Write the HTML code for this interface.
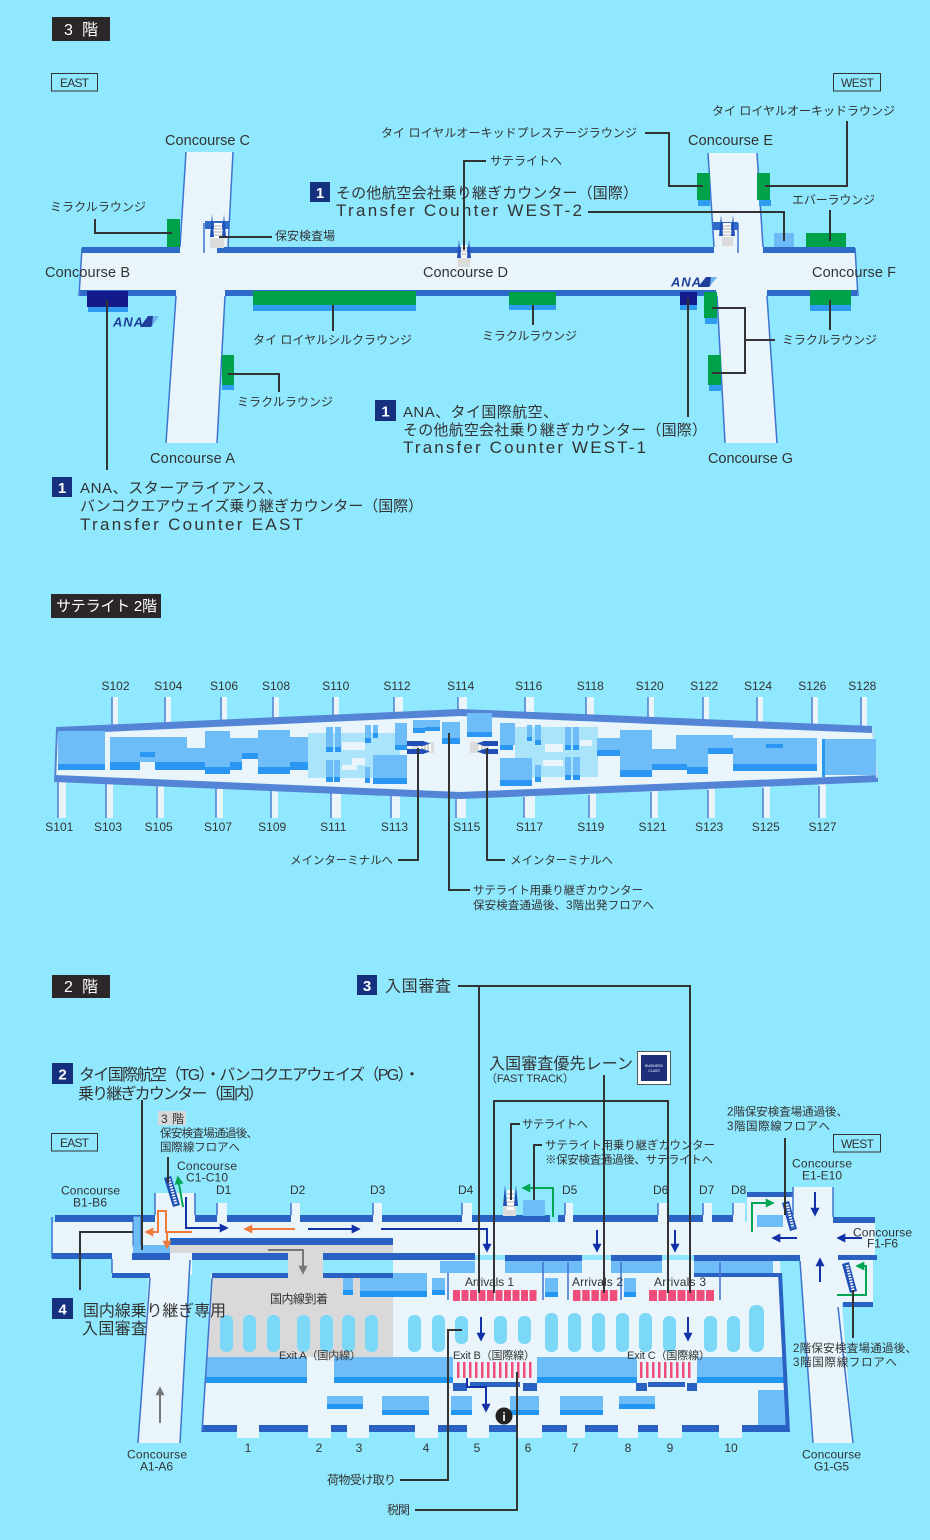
<!DOCTYPE html>
<html><head><meta charset="utf-8"><title>Airport map</title>
<style>
html,body{margin:0;padding:0;background:#8FE8FE;width:930px;height:1540px;overflow:hidden}
svg{display:block}
text{font-family:"Liberation Sans","Noto Sans CJK JP",sans-serif}
</style></head><body>
<svg xmlns="http://www.w3.org/2000/svg" width="930" height="1540" viewBox="0 0 930 1540">
<defs>
<marker id="mN" viewBox="0 0 10 10" refX="7" refY="5" markerWidth="4.5" markerHeight="4.5" orient="auto"><path d="M0,0L10,5L0,10z" fill="#1230A8"/></marker>
<marker id="mO" viewBox="0 0 10 10" refX="7" refY="5" markerWidth="4.5" markerHeight="4.5" orient="auto"><path d="M0,0L10,5L0,10z" fill="#F07A3A"/></marker>
<marker id="mG" viewBox="0 0 10 10" refX="7" refY="5" markerWidth="4.5" markerHeight="4.5" orient="auto"><path d="M0,0L10,5L0,10z" fill="#00A651"/></marker>
<marker id="mK" viewBox="0 0 10 10" refX="7" refY="5" markerWidth="4.5" markerHeight="4.5" orient="auto"><path d="M0,0L10,5L0,10z" fill="#777"/></marker>
</defs>
<rect width="930" height="1540" fill="#8FE8FE"/>

<!-- ================= 3F ================= -->
<rect x="52" y="17" width="58" height="24" fill="#2B2627"/>
<text x="64" y="35" font-size="16" fill="#fff" textLength="34">3 階</text>
<rect x="51.5" y="73.5" width="46" height="17.5" fill="none" stroke="#333" stroke-width="1"/>
<text x="60" y="87" font-size="12" fill="#333" textLength="29">EAST</text>
<rect x="833.5" y="73.5" width="47" height="17.5" fill="none" stroke="#333" stroke-width="1"/>
<text x="841" y="87" font-size="12" fill="#333" textLength="33">WEST</text>

<g fill="#E9F5FB">
<polygon points="186,152 233,152 217,443 166,443"/>
<polygon points="708,153 757,153 777,443 725,443"/>
<polygon points="81,253 855,253 857,291 79,291"/>
</g>
<g stroke="#3E72CF" stroke-width="1.5">
<line x1="186" y1="152" x2="180" y2="247"/>
<line x1="233" y1="152" x2="228" y2="247"/>
<line x1="176" y1="296" x2="166" y2="443"/>
<line x1="225" y1="296" x2="217" y2="443"/>
<line x1="708" y1="153" x2="714" y2="247"/>
<line x1="757" y1="153" x2="763" y2="247"/>
<line x1="717" y1="296" x2="725" y2="443"/>
<line x1="767" y1="296" x2="777" y2="443"/>
<line x1="82" y1="248" x2="79" y2="296"/>
<line x1="855" y1="248" x2="858" y2="296"/>
<line x1="204" y1="223" x2="204" y2="253"/>
<line x1="738" y1="223" x2="738" y2="253"/>
</g>
<g fill="#2E6BC9">
<rect x="82" y="247" width="98" height="6"/>
<rect x="217" y="247" width="497" height="6"/>
<rect x="763" y="247" width="92" height="6"/>
<rect x="80" y="290" width="96" height="6"/>
<rect x="225" y="290" width="491" height="6"/>
<rect x="767" y="290" width="90" height="6"/>
</g>
<!-- lounges -->
<g fill="#00A14B">
<rect x="167" y="219" width="13" height="28"/>
<rect x="253" y="291" width="163" height="14"/>
<rect x="222" y="355" width="12" height="30"/>
<rect x="509" y="292" width="47" height="13"/>
<rect x="704" y="292" width="13" height="26"/>
<rect x="708" y="355" width="13" height="30"/>
<rect x="697" y="173" width="13" height="27"/>
<rect x="757" y="173" width="13" height="27"/>
<rect x="806" y="233" width="40" height="14"/>
<rect x="810" y="290" width="41" height="15"/>
</g>
<g fill="#2D9CF1">
<rect x="253" y="305" width="163" height="6"/>
<rect x="88" y="307" width="40" height="5"/>
<rect x="222" y="385" width="12" height="5"/>
<rect x="509" y="305" width="47" height="5"/>
<rect x="680" y="305" width="17" height="5"/>
<rect x="705" y="318" width="12" height="6"/>
<rect x="709" y="385" width="12" height="6"/>
<rect x="698" y="200" width="12" height="6"/>
<rect x="759" y="200" width="12" height="6"/>
<rect x="810" y="305" width="41" height="6"/>
</g>
<rect x="774" y="233" width="20" height="14" fill="#6CBBF8"/>
<rect x="87" y="291" width="41" height="16" fill="#131A8A"/>
<rect x="680" y="292" width="17" height="13" fill="#131A8A"/>
<!-- ANA logos -->
<text x="113" y="326.5" font-size="13" font-weight="bold" font-style="italic" fill="#1F3D9A" textLength="30">ANA</text>
<polygon points="148,316 159,316 151,327 140,327" fill="#1F3D9A"/>
<polygon points="153,316 159,316 152,326" fill="#6FB6F2"/>
<text x="671" y="286.5" font-size="13" font-weight="bold" font-style="italic" fill="#1F3D9A" textLength="30">ANA</text>
<polygon points="706,277 717,277 709,287 698,287" fill="#1F3D9A"/>
<polygon points="711,277 717,277 710,286" fill="#6FB6F2"/>
<!-- security C -->
<rect x="205" y="221" width="24" height="8" fill="#2E6BC9"/>
<rect x="210" y="238" width="14" height="10" fill="#DCDCDC"/>
<rect x="214" y="223" width="8" height="15" fill="#fff"/>
<g stroke="#999" stroke-width="0.8"><line x1="214" y1="226" x2="222" y2="226"/><line x1="214" y1="229" x2="222" y2="229"/><line x1="214" y1="232" x2="222" y2="232"/><line x1="214" y1="235" x2="222" y2="235"/></g>
<polygon points="210,237 212,214 214,237" fill="#1F4FB5"/>
<polygon points="222,237 224,214 226,237" fill="#1F4FB5"/>
<!-- security D -->
<rect x="458" y="258" width="12" height="9" fill="#DCDCDC"/>
<rect x="461" y="245" width="6" height="13" fill="#fff"/>
<g stroke="#999" stroke-width="0.8"><line x1="461" y1="248" x2="467" y2="248"/><line x1="461" y1="251" x2="467" y2="251"/><line x1="461" y1="254" x2="467" y2="254"/></g>
<polygon points="457,258 459,240 461,258" fill="#1F4FB5"/>
<polygon points="467,258 469,240 471,258" fill="#1F4FB5"/>
<!-- security E -->
<rect x="713" y="222" width="25" height="8" fill="#2E6BC9"/>
<rect x="722" y="237" width="11" height="9" fill="#DCDCDC"/>
<rect x="723" y="223" width="8" height="14" fill="#fff"/>
<g stroke="#999" stroke-width="0.8"><line x1="723" y1="226" x2="731" y2="226"/><line x1="723" y1="229" x2="731" y2="229"/><line x1="723" y1="232" x2="731" y2="232"/><line x1="723" y1="235" x2="731" y2="235"/></g>
<polygon points="719,236 721,215 723,236" fill="#1F4FB5"/>
<polygon points="731,236 733,215 735,236" fill="#1F4FB5"/>

<!-- 3F leader lines -->
<g stroke="#333" stroke-width="2" fill="none">
<polyline points="95,219 95,233 172,233"/>
<line x1="219" y1="237" x2="272" y2="237"/>
<polyline points="486,161 464,161 464,250"/>
<polyline points="588,212 784,212 784,241"/>
<polyline points="645,133 669,133 669,186 703,186"/>
<polyline points="847,121 847,186 765,186"/>
<line x1="830" y1="210" x2="830" y2="241"/>
<line x1="830" y1="300" x2="830" y2="330"/>
<polyline points="712,308 745,308 745,373 712,373"/>
<line x1="745" y1="340" x2="775" y2="340"/>
<line x1="688" y1="298" x2="688" y2="417"/>
<line x1="533" y1="305" x2="533" y2="325"/>
<line x1="333" y1="305" x2="333" y2="331"/>
<polyline points="228,374 279,374 279,392"/>
<line x1="107" y1="300" x2="107" y2="470"/>
</g>

<g fill="#333">
<text x="712" y="115" font-size="12" textLength="183">タイ ロイヤルオーキッドラウンジ</text>
<text x="381" y="137" font-size="12" textLength="256">タイ ロイヤルオーキッドプレステージラウンジ</text>
<text x="165" y="145" font-size="14.5" textLength="85">Concourse C</text>
<text x="688" y="145" font-size="14.5" textLength="85">Concourse E</text>
<text x="490" y="165" font-size="12" textLength="72">サテライトへ</text>
<text x="50" y="211" font-size="12" textLength="96">ミラクルラウンジ</text>
<text x="792" y="204" font-size="12" textLength="83">エバーラウンジ</text>
<text x="275" y="240" font-size="12" textLength="60">保安検査場</text>
<text x="45" y="277" font-size="14.5" textLength="85">Concourse B</text>
<text x="423" y="277" font-size="14.5" textLength="85">Concourse D</text>
<text x="812" y="277" font-size="14.5" textLength="84">Concourse F</text>
<text x="253" y="344" font-size="12" textLength="159">タイ ロイヤルシルクラウンジ</text>
<text x="482" y="340" font-size="12" textLength="95">ミラクルラウンジ</text>
<text x="782" y="344" font-size="12" textLength="95">ミラクルラウンジ</text>
<text x="237" y="406" font-size="12" textLength="96">ミラクルラウンジ</text>
<text x="150" y="463" font-size="14.5" textLength="85">Concourse A</text>
<text x="708" y="463" font-size="14.5" textLength="85">Concourse G</text>
</g>
<!-- numbered labels 3F -->
<rect x="310" y="182" width="20" height="20" fill="#14307F"/>
<text x="320" y="198" font-size="15" font-weight="bold" fill="#fff" text-anchor="middle">1</text>
<text x="336" y="198" font-size="15" fill="#333" textLength="302">その他航空会社乗り継ぎカウンター（国際）</text>
<text x="336" y="216" font-size="17" fill="#333" textLength="246">Transfer Counter WEST-2</text>
<rect x="375" y="400" width="21" height="21" fill="#14307F"/>
<text x="385.5" y="416.5" font-size="15" font-weight="bold" fill="#fff" text-anchor="middle">1</text>
<text x="403" y="417" font-size="15" fill="#333" textLength="155">ANA、タイ国際航空、</text>
<text x="403" y="435" font-size="15" fill="#333" textLength="304">その他航空会社乗り継ぎカウンター（国際）</text>
<text x="403" y="453" font-size="17" fill="#333" textLength="243">Transfer Counter WEST-1</text>
<rect x="52" y="477" width="20" height="20" fill="#14307F"/>
<text x="62" y="493" font-size="15" font-weight="bold" fill="#fff" text-anchor="middle">1</text>
<text x="80" y="493" font-size="15" fill="#333" textLength="202">ANA、スターアライアンス、</text>
<text x="80" y="511" font-size="15" fill="#333" textLength="343">バンコクエアウェイズ乗り継ぎカウンター（国際）</text>
<text x="80" y="530" font-size="17" fill="#333" textLength="223">Transfer Counter EAST</text>

<!-- ================= SATELLITE ================= -->
<rect x="51" y="594" width="110" height="24" fill="#2B2627"/>
<text x="56" y="611" font-size="15" fill="#fff" textLength="101">サテライト 2階</text>

<!-- gates -->
<g fill="#E9F5FB">
<rect x="112" y="697" width="6" height="40"/><rect x="165" y="697" width="6" height="40"/><rect x="221" y="697" width="6" height="40"/><rect x="273" y="697" width="6" height="40"/><rect x="333" y="697" width="6" height="40"/><rect x="394" y="697" width="9" height="30"/><rect x="458" y="697" width="9" height="20"/><rect x="525" y="697" width="9" height="30"/><rect x="586" y="697" width="8" height="30"/><rect x="648" y="697" width="6" height="35"/><rect x="703" y="697" width="6" height="35"/><rect x="757" y="697" width="6" height="35"/><rect x="812" y="697" width="6" height="40"/><rect x="861" y="697" width="6" height="40"/>
<rect x="58" y="770" width="8" height="48"/><rect x="106" y="770" width="7" height="48"/><rect x="157" y="770" width="7" height="48"/><rect x="216" y="770" width="7" height="48"/><rect x="271" y="775" width="7" height="43"/><rect x="331" y="775" width="10" height="43"/><rect x="391" y="780" width="9" height="38"/><rect x="456" y="785" width="10" height="33"/><rect x="524" y="780" width="11" height="38"/><rect x="589" y="780" width="7" height="38"/><rect x="651" y="775" width="7" height="43"/><rect x="708" y="775" width="7" height="43"/><rect x="763" y="770" width="7" height="48"/><rect x="819" y="770" width="7" height="48"/>
</g>
<g stroke="#4F7FD3" stroke-width="1.5">
<line x1="112" y1="697" x2="112" y2="733"/><line x1="165" y1="697" x2="165" y2="730"/><line x1="221" y1="697" x2="221" y2="728"/><line x1="273" y1="697" x2="273" y2="725"/><line x1="333" y1="697" x2="333" y2="722"/><line x1="394" y1="697" x2="394" y2="720"/><line x1="458" y1="697" x2="458" y2="712"/><line x1="525" y1="697" x2="525" y2="714"/><line x1="586" y1="697" x2="586" y2="716"/><line x1="648" y1="697" x2="648" y2="718"/><line x1="703" y1="697" x2="703" y2="720"/><line x1="757" y1="697" x2="757" y2="722"/><line x1="812" y1="697" x2="812" y2="725"/><line x1="861" y1="697" x2="861" y2="728"/>
<line x1="58" y1="780" x2="58" y2="818"/><line x1="106" y1="782" x2="106" y2="818"/><line x1="157" y1="784" x2="157" y2="818"/><line x1="216" y1="786" x2="216" y2="818"/><line x1="271" y1="788" x2="271" y2="818"/><line x1="331" y1="790" x2="331" y2="818"/><line x1="391" y1="792" x2="391" y2="818"/><line x1="456" y1="798" x2="456" y2="818"/><line x1="524" y1="797" x2="524" y2="818"/><line x1="589" y1="795" x2="589" y2="818"/><line x1="651" y1="792" x2="651" y2="818"/><line x1="708" y1="790" x2="708" y2="818"/><line x1="763" y1="788" x2="763" y2="818"/><line x1="819" y1="786" x2="819" y2="818"/>
</g>
<polygon points="58,734 460,716 872,733 878,775 460,792 55,775" fill="#E9F5FB"/>
<polygon points="56,727 460,709 872,726 872,733 460,716 58,734" fill="#5384D6"/>
<polygon points="55,775 460,792 878,775 878,782 460,799 55,782" fill="#5384D6"/>
<line x1="57" y1="728" x2="55" y2="782" stroke="#5384D6" stroke-width="2"/>
<line x1="873" y1="729" x2="877" y2="778" stroke="#B9DDF7" stroke-width="2"/>

<!-- satellite blocks -->
<g fill="#A9E4FA">
<rect x="308" y="733" width="92" height="45"/>
<rect x="515" y="727" width="83" height="50"/>
</g>
<g fill="#E9F5FB">
<rect x="342" y="742" width="23" height="8"/><rect x="352" y="758" width="13" height="7"/><rect x="342" y="765" width="15" height="5"/>
<rect x="545" y="744" width="18" height="8"/><rect x="543" y="760" width="20" height="6"/><rect x="580" y="740" width="12" height="6"/>
</g>
<g fill="#6EBDF9">
<rect x="58" y="731" width="47" height="33"/>
<rect x="110" y="737" width="77" height="25"/>
<rect x="187" y="748" width="18" height="14"/>
<rect x="205" y="731" width="25" height="36"/>
<rect x="230" y="738" width="12" height="24"/>
<rect x="242" y="738" width="16" height="15"/>
<rect x="258" y="730" width="32" height="37"/>
<rect x="290" y="737" width="18" height="25"/>
<rect x="326" y="727" width="7" height="20"/><rect x="335" y="727" width="6" height="20"/>
<rect x="326" y="760" width="7" height="17"/><rect x="334" y="760" width="6" height="17"/>
<rect x="365" y="725" width="6" height="13"/><rect x="373" y="725" width="5" height="8"/>
<rect x="365" y="767" width="5" height="11"/>
<rect x="395" y="723" width="12" height="22"/>
<rect x="373" y="755" width="34" height="23"/>
<rect x="413" y="720" width="27" height="10"/>
<rect x="442" y="722" width="18" height="16"/>
<rect x="467" y="713" width="25" height="19"/>
<rect x="500" y="723" width="15" height="22"/>
<rect x="500" y="758" width="32" height="22"/>
<rect x="527" y="725" width="5" height="12"/><rect x="535" y="725" width="6" height="15"/><rect x="535" y="765" width="6" height="12"/>
<rect x="565" y="727" width="6" height="18"/><rect x="573" y="727" width="6" height="18"/><rect x="565" y="757" width="6" height="18"/><rect x="573" y="757" width="7" height="18"/>
<rect x="597" y="738" width="23" height="12"/>
<rect x="620" y="730" width="32" height="40"/>
<rect x="652" y="749" width="24" height="15"/>
<rect x="676" y="735" width="32" height="32"/>
<rect x="708" y="735" width="25" height="13"/>
<rect x="733" y="738" width="84" height="26"/>
<rect x="822" y="739" width="54" height="36"/>
</g>
<g fill="#2A98F2">
<rect x="58" y="764" width="47" height="6"/>
<rect x="110" y="762" width="30" height="8"/><rect x="140" y="752" width="15" height="5"/><rect x="155" y="762" width="32" height="8"/>
<rect x="187" y="762" width="18" height="8"/><rect x="205" y="767" width="25" height="7"/><rect x="230" y="762" width="12" height="8"/>
<rect x="242" y="753" width="16" height="6"/><rect x="258" y="767" width="32" height="7"/><rect x="290" y="762" width="18" height="8"/>
<rect x="326" y="747" width="7" height="5"/><rect x="335" y="747" width="6" height="5"/><rect x="326" y="777" width="7" height="5"/><rect x="334" y="777" width="6" height="5"/>
<rect x="365" y="738" width="6" height="5"/><rect x="373" y="733" width="5" height="5"/><rect x="365" y="778" width="5" height="5"/>
<rect x="395" y="745" width="12" height="5"/><rect x="373" y="778" width="34" height="6"/>
<rect x="413" y="728" width="12" height="5"/><rect x="425" y="727" width="15" height="4"/><rect x="442" y="738" width="18" height="6"/>
<rect x="467" y="732" width="25" height="5"/>
<rect x="500" y="745" width="13" height="5"/><rect x="500" y="780" width="32" height="6"/>
<rect x="527" y="737" width="5" height="4"/><rect x="535" y="740" width="6" height="5"/><rect x="535" y="777" width="6" height="5"/>
<rect x="565" y="745" width="6" height="5"/><rect x="573" y="745" width="6" height="5"/><rect x="565" y="775" width="6" height="5"/><rect x="573" y="775" width="7" height="5"/>
<rect x="597" y="750" width="23" height="6"/><rect x="620" y="770" width="32" height="7"/><rect x="652" y="764" width="35" height="6"/>
<rect x="687" y="767" width="21" height="7"/><rect x="708" y="748" width="25" height="6"/><rect x="733" y="764" width="84" height="7"/>
<rect x="766" y="744" width="17" height="4"/>
<rect x="822" y="739" width="3" height="38"/>
</g>
<!-- satellite stairs -->
<rect x="412" y="742" width="22" height="11" fill="#DCDCDC"/>
<rect x="419" y="744" width="12" height="8" fill="#fff"/>
<g stroke="#888" stroke-width="0.8"><line x1="422" y1="744" x2="422" y2="752"/><line x1="425" y1="744" x2="425" y2="752"/><line x1="428" y1="744" x2="428" y2="752"/></g>
<polygon points="407,741 423,741 430,743.5 423,746 407,746" fill="#1F4FB5"/>
<polygon points="407,749 423,749 430,751.5 423,754 407,754" fill="#1F4FB5"/>
<rect x="470" y="742" width="12" height="11" fill="#DCDCDC"/>
<rect x="479" y="744" width="13" height="8" fill="#fff"/>
<g stroke="#888" stroke-width="0.8"><line x1="482" y1="744" x2="482" y2="752"/><line x1="485" y1="744" x2="485" y2="752"/><line x1="488" y1="744" x2="488" y2="752"/></g>
<polygon points="498,741 484,741 477,743.5 484,746 498,746" fill="#1F4FB5"/>
<polygon points="498,749 484,749 477,751.5 484,754 498,754" fill="#1F4FB5"/>

<g stroke="#333" stroke-width="2" fill="none">
<polyline points="418,748 418,860 398,860"/>
<polyline points="449,733 449,890 470,890"/>
<polyline points="487,748 487,860 505,860"/>
</g>
<g fill="#333" font-size="12" text-anchor="middle">
<text x="115.5" y="690">S102</text><text x="168.3" y="690">S104</text><text x="224" y="690">S106</text><text x="276" y="690">S108</text><text x="335.7" y="690">S110</text><text x="397" y="690">S112</text><text x="460.7" y="690">S114</text><text x="528.7" y="690">S116</text><text x="590.3" y="690">S118</text><text x="649.7" y="690">S120</text><text x="704.2" y="690">S122</text><text x="758" y="690">S124</text><text x="812.3" y="690">S126</text><text x="862.3" y="690">S128</text>
<text x="59.3" y="831">S101</text><text x="108" y="831">S103</text><text x="158.7" y="831">S105</text><text x="218" y="831">S107</text><text x="272.2" y="831">S109</text><text x="333.3" y="831">S111</text><text x="394.5" y="831">S113</text><text x="466.7" y="831">S115</text><text x="529.5" y="831">S117</text><text x="590.8" y="831">S119</text><text x="652.5" y="831">S121</text><text x="709.2" y="831">S123</text><text x="765.8" y="831">S125</text><text x="822.5" y="831">S127</text>
</g>
<g fill="#333">
<text x="290" y="864" font-size="11.5" textLength="103">メインターミナルへ</text>
<text x="510" y="864" font-size="11.5" textLength="103">メインターミナルへ</text>
<text x="473" y="894" font-size="11.5" textLength="170">サテライト用乗り継ぎカウンター</text>
<text x="473" y="909" font-size="11.5" textLength="181">保安検査通過後、3階出発フロアへ</text>
</g>

<!-- ================= 2F ================= -->
<rect x="52" y="975" width="58" height="23" fill="#2B2627"/>
<text x="64" y="992" font-size="16" fill="#fff" textLength="34">2 階</text>

<!-- floors -->
<g fill="#E9F5FB">
<rect x="52" y="1222" width="823" height="33"/>
<rect x="112" y="1253" width="80" height="22"/>
<polygon points="150,1255 190,1255 180,1443 138,1443"/>
<rect x="155" y="1193" width="40" height="29"/>
<rect x="793" y="1187" width="40" height="35"/>
<rect x="747" y="1197" width="46" height="25"/>
<rect x="217" y="1203" width="10" height="19"/><rect x="291" y="1203" width="9" height="19"/><rect x="373" y="1203" width="9" height="19"/><rect x="462" y="1203" width="10" height="19"/><rect x="565" y="1203" width="8" height="19"/><rect x="658" y="1203" width="10" height="19"/><rect x="703" y="1203" width="9" height="19"/><rect x="733" y="1203" width="12" height="19"/>
<rect x="838" y="1255" width="35" height="48"/>
<polygon points="800,1255 838,1255 853,1443 813,1443"/>
<polygon points="212,1260 780,1260 788,1432 202,1432"/>
<rect x="237" y="1425" width="22" height="13"/><rect x="308" y="1425" width="23" height="13"/><rect x="347" y="1425" width="22" height="13"/><rect x="415" y="1425" width="23" height="13"/><rect x="467" y="1425" width="22" height="13"/><rect x="518" y="1425" width="24" height="13"/><rect x="567" y="1425" width="18" height="13"/><rect x="618" y="1425" width="20" height="13"/><rect x="658" y="1425" width="24" height="13"/><rect x="719" y="1425" width="23" height="13"/>
</g>
<rect x="192" y="1260" width="201" height="13" fill="#8FE8FE"/>
<g fill="#D9D9D9">
<rect x="170" y="1245" width="223" height="8"/>
<rect x="288" y="1253" width="35" height="22"/>
<polygon points="212,1273 393,1273 393,1357 207,1357"/>
</g>
<!-- light blue strips and blocks near arrivals -->
<g fill="#6FBDF8">
<rect x="440" y="1261" width="35" height="12"/><rect x="505" y="1261" width="77" height="12"/><rect x="611" y="1261" width="51" height="12"/><rect x="694" y="1261" width="79" height="12"/>
<rect x="343" y="1278" width="10" height="12"/><rect x="360" y="1273" width="67" height="18"/><rect x="432" y="1278" width="13" height="12"/>
<rect x="545" y="1278" width="13" height="14"/><rect x="624" y="1278" width="12" height="14"/>
<rect x="206" y="1357" width="101" height="20"/><rect x="334" y="1357" width="119" height="20"/><rect x="537" y="1357" width="100" height="20"/><rect x="697" y="1357" width="88" height="20"/>
<rect x="327" y="1396" width="36" height="8"/><rect x="382" y="1396" width="47" height="14"/><rect x="451" y="1396" width="21" height="14"/><rect x="510" y="1396" width="29" height="14"/><rect x="560" y="1396" width="43" height="14"/><rect x="619" y="1396" width="36" height="8"/>
<rect x="758" y="1390" width="30" height="35"/>
</g>
<g fill="#2196F3">
<rect x="343" y="1290" width="10" height="5"/><rect x="360" y="1291" width="67" height="6"/><rect x="432" y="1290" width="13" height="5"/>
<rect x="545" y="1292" width="13" height="5"/><rect x="624" y="1292" width="12" height="5"/>
<rect x="206" y="1377" width="101" height="6"/><rect x="334" y="1377" width="119" height="6"/><rect x="537" y="1377" width="100" height="6"/><rect x="697" y="1377" width="88" height="6"/>
<rect x="327" y="1404" width="36" height="5"/><rect x="382" y="1410" width="47" height="5"/><rect x="451" y="1410" width="21" height="5"/><rect x="510" y="1410" width="29" height="5"/><rect x="560" y="1410" width="43" height="5"/><rect x="619" y="1404" width="36" height="5"/>
</g>
<!-- pills -->
<g fill="#7BD8F7">
<rect x="220" y="1315" width="13" height="37" rx="6"/><rect x="243" y="1315" width="13" height="37" rx="6"/><rect x="267" y="1315" width="13" height="37" rx="6"/><rect x="297" y="1315" width="13" height="37" rx="6"/><rect x="320" y="1315" width="13" height="37" rx="6"/><rect x="342" y="1315" width="13" height="37" rx="6"/><rect x="365" y="1315" width="13" height="37" rx="6"/>
<rect x="408" y="1315" width="13" height="37" rx="6"/><rect x="432" y="1315" width="13" height="37" rx="6"/><rect x="455" y="1316" width="13" height="28" rx="6"/><rect x="494" y="1316" width="13" height="28" rx="6"/><rect x="518" y="1316" width="13" height="28" rx="6"/><rect x="545" y="1313" width="13" height="39" rx="6"/><rect x="568" y="1313" width="13" height="39" rx="6"/><rect x="592" y="1313" width="13" height="39" rx="6"/><rect x="616" y="1313" width="13" height="39" rx="6"/><rect x="639" y="1313" width="13" height="39" rx="6"/><rect x="663" y="1316" width="13" height="36" rx="6"/><rect x="704" y="1316" width="13" height="36" rx="6"/><rect x="727" y="1316" width="13" height="36" rx="6"/><rect x="749" y="1305" width="15" height="47" rx="7"/>
</g>
<!-- walls -->
<g fill="#2962C3">
<rect x="55" y="1215" width="100" height="7"/><rect x="195" y="1215" width="22" height="7"/><rect x="227" y="1215" width="64" height="7"/><rect x="300" y="1215" width="73" height="7"/><rect x="382" y="1215" width="80" height="7"/><rect x="472" y="1215" width="78" height="7"/><rect x="558" y="1215" width="7" height="7"/><rect x="573" y="1215" width="85" height="7"/><rect x="668" y="1215" width="35" height="7"/><rect x="712" y="1215" width="21" height="7"/><rect x="833" y="1217" width="42" height="6"/>
<rect x="747" y="1192" width="46" height="5"/>
<rect x="170" y="1238" width="223" height="7"/>
<rect x="52" y="1253" width="60" height="6"/><rect x="132" y="1253" width="38" height="7"/><rect x="192" y="1253" width="96" height="7"/><rect x="323" y="1253" width="152" height="7"/><rect x="505" y="1255" width="77" height="6"/><rect x="611" y="1255" width="51" height="6"/><rect x="694" y="1255" width="106" height="6"/><rect x="838" y="1255" width="39" height="5"/>
<rect x="112" y="1273" width="38" height="5"/><rect x="212" y="1273" width="76" height="5"/><rect x="323" y="1273" width="70" height="5"/><rect x="694" y="1273" width="84" height="4"/>
<polygon points="778,1273 782,1273 790,1432 786,1432"/>
<rect x="202" y="1425" width="35" height="7"/><rect x="259" y="1425" width="49" height="7"/><rect x="331" y="1425" width="16" height="7"/><rect x="369" y="1425" width="46" height="7"/><rect x="438" y="1425" width="29" height="7"/><rect x="489" y="1425" width="29" height="7"/><rect x="542" y="1425" width="25" height="7"/><rect x="585" y="1425" width="33" height="7"/><rect x="638" y="1425" width="20" height="7"/><rect x="682" y="1425" width="37" height="7"/><rect x="742" y="1425" width="46" height="7"/>
<rect x="843" y="1302" width="30" height="5"/>
<rect x="453" y="1383" width="14" height="8"/><rect x="523" y="1383" width="14" height="8"/><rect x="470" y="1382" width="50" height="5"/>
<rect x="636" y="1383" width="11" height="8"/><rect x="687" y="1383" width="10" height="8"/><rect x="648" y="1382" width="37" height="5"/>
</g>
<g stroke="#3E72CF" stroke-width="1.5">
<line x1="52" y1="1217" x2="52" y2="1258"/>
<line x1="112" y1="1259" x2="112" y2="1273"/>
<line x1="150" y1="1278" x2="138" y2="1443"/>
<line x1="190" y1="1260" x2="180" y2="1443"/>
<line x1="800" y1="1261" x2="813" y2="1443"/>
<line x1="838" y1="1307" x2="853" y2="1443"/>
<line x1="155" y1="1193" x2="155" y2="1215"/>
<line x1="195" y1="1193" x2="195" y2="1215"/>
<line x1="793" y1="1187" x2="793" y2="1215"/>
<line x1="833" y1="1187" x2="833" y2="1217"/>
<line x1="212" y1="1278" x2="202" y2="1432"/>
<line x1="217" y1="1203" x2="217" y2="1215"/><line x1="291" y1="1203" x2="291" y2="1215"/><line x1="373" y1="1203" x2="373" y2="1215"/><line x1="462" y1="1203" x2="462" y2="1215"/><line x1="565" y1="1203" x2="565" y2="1215"/><line x1="658" y1="1203" x2="658" y2="1215"/><line x1="703" y1="1203" x2="703" y2="1215"/><line x1="733" y1="1203" x2="733" y2="1215"/>
<line x1="448" y1="1273" x2="448" y2="1300"/><line x1="543" y1="1262" x2="543" y2="1300"/><line x1="568" y1="1262" x2="568" y2="1300"/><line x1="621" y1="1262" x2="621" y2="1300"/><line x1="720" y1="1262" x2="720" y2="1300"/>
</g>
<!-- blue boxes -->
<rect x="133" y="1216" width="8" height="30" fill="#6FBDF8" stroke="#2962C3" stroke-width="1"/>
<rect x="133" y="1245" width="37" height="8" fill="#6FBDF8"/>
<rect x="757" y="1215" width="26" height="12" fill="#6FBDF8"/>
<rect x="523" y="1200" width="22" height="16" fill="#6FBDF8"/>

<!-- pink arrivals -->
<g fill="#F14D7A">
<rect x="453" y="1290" width="7" height="11"/><rect x="461.5" y="1290" width="7" height="11"/><rect x="470" y="1290" width="7" height="11"/><rect x="478.5" y="1290" width="7" height="11"/><rect x="487" y="1290" width="7" height="11"/><rect x="495.5" y="1290" width="7" height="11"/><rect x="504" y="1290" width="7" height="11"/><rect x="512.5" y="1290" width="7" height="11"/><rect x="521" y="1290" width="7" height="11"/><rect x="529.5" y="1290" width="7" height="11"/>
<rect x="573" y="1290" width="7.5" height="11"/><rect x="582.2" y="1290" width="7.5" height="11"/><rect x="591.4" y="1290" width="7.5" height="11"/><rect x="600.6" y="1290" width="7.5" height="11"/><rect x="609.8" y="1290" width="7.5" height="11"/>
<rect x="649" y="1290" width="8" height="11"/><rect x="658.5" y="1290" width="8" height="11"/><rect x="668" y="1290" width="8" height="11"/><rect x="677.5" y="1290" width="8" height="11"/><rect x="687" y="1290" width="8" height="11"/><rect x="696.5" y="1290" width="8" height="11"/><rect x="706" y="1290" width="8" height="11"/>
<rect x="457" y="1362" width="2.5" height="16"/><rect x="463" y="1362" width="2.5" height="16"/><rect x="469" y="1362" width="2.5" height="16"/><rect x="475" y="1362" width="2.5" height="16"/><rect x="481" y="1362" width="2.5" height="16"/><rect x="487" y="1362" width="2.5" height="16"/><rect x="493" y="1362" width="2.5" height="16"/><rect x="499" y="1362" width="2.5" height="16"/><rect x="505" y="1362" width="2.5" height="16"/><rect x="511" y="1362" width="2.5" height="16"/><rect x="517" y="1362" width="2.5" height="16"/><rect x="523" y="1362" width="2.5" height="16"/><rect x="529" y="1362" width="2.5" height="16"/>
<rect x="640" y="1362" width="2.5" height="16"/><rect x="646" y="1362" width="2.5" height="16"/><rect x="652" y="1362" width="2.5" height="16"/><rect x="658" y="1362" width="2.5" height="16"/><rect x="664" y="1362" width="2.5" height="16"/><rect x="670" y="1362" width="2.5" height="16"/><rect x="676" y="1362" width="2.5" height="16"/><rect x="682" y="1362" width="2.5" height="16"/><rect x="688" y="1362" width="2.5" height="16"/>
</g>

<!-- escalators -->
<polygon points="164,1178 171,1176 180,1205 173,1207" fill="#1F4FB5"/>
<line x1="169" y1="1179" x2="176" y2="1204" stroke="#fff" stroke-width="3" stroke-dasharray="1.5 1.2"/>
<polygon points="782,1203 789,1201 797,1229 790,1231" fill="#1F4FB5"/>
<line x1="787" y1="1204" x2="793" y2="1228" stroke="#fff" stroke-width="3" stroke-dasharray="1.5 1.2"/>
<polygon points="842,1264 849,1262 857,1291 850,1293" fill="#1F4FB5"/>
<line x1="847" y1="1265" x2="853" y2="1290" stroke="#fff" stroke-width="3" stroke-dasharray="1.5 1.2"/>
<!-- stair D4-D5 -->
<rect x="503" y="1200" width="13" height="16" fill="#DCDCDC"/>
<rect x="507" y="1190" width="7" height="20" fill="#fff"/>
<g stroke="#999" stroke-width="0.8"><line x1="507" y1="1194" x2="514" y2="1194"/><line x1="507" y1="1198" x2="514" y2="1198"/><line x1="507" y1="1202" x2="514" y2="1202"/><line x1="507" y1="1206" x2="514" y2="1206"/></g>
<polygon points="503,1206 505,1185 507,1206" fill="#1F4FB5"/>
<polygon points="514,1206 516,1185 518,1206" fill="#1F4FB5"/>

<!-- arrows -->
<g fill="none" stroke-width="2">
<polyline points="186,1197 186,1228 226,1228" stroke="#1230A8" marker-end="url(#mN)"/>
<line x1="308" y1="1229" x2="358" y2="1229" stroke="#1230A8" marker-end="url(#mN)"/>
<polyline points="381,1229 487,1229 487,1250" stroke="#1230A8" marker-end="url(#mN)"/>
<line x1="597" y1="1230" x2="597" y2="1250" stroke="#1230A8" marker-end="url(#mN)"/>
<line x1="675" y1="1230" x2="675" y2="1250" stroke="#1230A8" marker-end="url(#mN)"/>
<line x1="481" y1="1317" x2="481" y2="1339" stroke="#1230A8" marker-end="url(#mN)"/>
<line x1="688" y1="1317" x2="688" y2="1339" stroke="#1230A8" marker-end="url(#mN)"/>
<line x1="815" y1="1192" x2="815" y2="1214" stroke="#1230A8" marker-end="url(#mN)"/>
<line x1="797" y1="1238" x2="774" y2="1238" stroke="#1230A8" marker-end="url(#mN)"/>
<line x1="862" y1="1238" x2="839" y2="1238" stroke="#1230A8" marker-end="url(#mN)"/>
<line x1="820" y1="1282" x2="820" y2="1260" stroke="#1230A8" marker-end="url(#mN)"/>
<polyline points="467,1378 467,1387 486,1387 486,1410" stroke="#1230A8" marker-end="url(#mN)"/>
<polyline points="192,1232 166,1232 166,1211 158,1211 158,1232 147,1232" stroke="#F07A3A" marker-end="url(#mO)"/>
<line x1="167" y1="1232" x2="167" y2="1247" stroke="#F07A3A" marker-end="url(#mO)"/>
<line x1="295" y1="1229" x2="246" y2="1229" stroke="#F07A3A" marker-end="url(#mO)"/>
<line x1="183" y1="1207" x2="178" y2="1178" stroke="#00A651" marker-end="url(#mG)"/>
<polyline points="553,1217 553,1188 524,1188" stroke="#00A651" marker-end="url(#mG)"/>
<polyline points="752,1232 752,1203 772,1203" stroke="#00A651" marker-end="url(#mG)"/>
<polyline points="837,1295 866,1295 866,1266 858,1266" stroke="#00A651" marker-end="url(#mG)"/>
<polyline points="268,1250 303,1250 303,1272" stroke="#777" marker-end="url(#mK)"/>
<line x1="160" y1="1423" x2="160" y2="1389" stroke="#777" marker-end="url(#mK)"/>
</g>
<!-- info -->
<circle cx="504" cy="1416" r="8.5" fill="#222"/>
<text x="504" y="1421" font-size="12" font-weight="bold" fill="#fff" text-anchor="middle" font-family="Liberation Serif">i</text>

<!-- leader lines 2F -->
<g stroke="#333" stroke-width="2" fill="none">
<polyline points="458,986 690,986 690,1293"/>
<line x1="479" y1="986" x2="479" y2="1293"/>
<line x1="604" y1="1075" x2="604" y2="1293"/>
<polyline points="494,1293 494,1101 668,1101 668,1293"/>
<polyline points="511,1200 511,1124 520,1124"/>
<polyline points="534,1200 534,1145 542,1145"/>
<line x1="785" y1="1138" x2="785" y2="1215"/>
<line x1="853" y1="1290" x2="853" y2="1338"/>
<line x1="142" y1="1100" x2="142" y2="1250"/>
<line x1="168" y1="1157" x2="168" y2="1183"/>
<polyline points="80,1290 80,1232 133,1232"/>
<polyline points="400,1480 448,1480 448,1330 462,1330"/>
<polyline points="415,1510 517,1510 517,1372"/>
</g>

<!-- 2F labels -->
<rect x="357" y="975" width="20" height="20" fill="#14307F"/>
<text x="367" y="991" font-size="15" font-weight="bold" fill="#fff" text-anchor="middle">3</text>
<text x="385" y="991.5" font-size="16" fill="#333" textLength="66">入国審査</text>
<text x="489" y="1069" font-size="16" fill="#333" textLength="144">入国審査優先レーン</text>
<text x="486" y="1082" font-size="11" fill="#333" textLength="88">（FAST TRACK）</text>
<rect x="637.5" y="1051.5" width="33" height="33" fill="#fff" stroke="#555" stroke-width="1"/>
<rect x="641" y="1055" width="26" height="26" fill="#1F2E7A"/>
<text x="654" y="1067" font-size="3.5" fill="#fff" text-anchor="middle">BUSINESS</text>
<text x="654" y="1072" font-size="3.5" fill="#fff" text-anchor="middle">CLASS</text>

<rect x="52" y="1063" width="21" height="21" fill="#14307F"/>
<text x="62.5" y="1079.5" font-size="15" font-weight="bold" fill="#fff" text-anchor="middle">2</text>
<text x="79" y="1080" font-size="16" fill="#333" textLength="341">タイ国際航空（TG）・バンコクエアウェイズ（PG）・</text>
<text x="78" y="1099" font-size="16" fill="#333" textLength="186">乗り継ぎカウンター（国内）</text>

<rect x="158" y="1111" width="28" height="14" fill="#D8D8D8"/>
<text x="161" y="1123" font-size="12" fill="#333" textLength="23">3 階</text>
<text x="160" y="1137" font-size="11.5" fill="#333" textLength="98">保安検査場通過後、</text>
<text x="160" y="1151" font-size="11.5" fill="#333" textLength="80">国際線フロアへ</text>

<rect x="51.5" y="1133.5" width="46" height="17.5" fill="none" stroke="#333" stroke-width="1"/>
<text x="60" y="1147" font-size="12" fill="#333" textLength="29">EAST</text>
<rect x="833.5" y="1134.5" width="47" height="17.5" fill="none" stroke="#333" stroke-width="1"/>
<text x="841" y="1148" font-size="12" fill="#333" textLength="33">WEST</text>

<g fill="#333" font-size="12">
<text x="177" y="1170" textLength="60">Concourse</text>
<text x="186" y="1181.5" textLength="42">C1-C10</text>
<text x="61" y="1194.5" textLength="59">Concourse</text>
<text x="73" y="1206.5" textLength="34">B1-B6</text>
<text x="216" y="1194">D1</text><text x="290" y="1194">D2</text><text x="370" y="1194">D3</text><text x="458" y="1194">D4</text><text x="562" y="1194">D5</text><text x="653" y="1194">D6</text><text x="699" y="1194">D7</text><text x="731" y="1194">D8</text>
<text x="522" y="1128" font-size="11.5" textLength="66">サテライトへ</text>
<text x="545" y="1149" font-size="11.5" textLength="170">サテライト用乗り継ぎカウンター</text>
<text x="545" y="1163.5" font-size="11.5" textLength="168">※保安検査通過後、サテライトへ</text>
<text x="727" y="1115.5" font-size="11.5" textLength="121">2階保安検査場通過後、</text>
<text x="727" y="1130" font-size="11.5" textLength="103">3階国際線フロアへ</text>
<text x="792" y="1167.5" textLength="60">Concourse</text>
<text x="802" y="1179.5" textLength="40">E1-E10</text>
<text x="853" y="1236.5" textLength="59">Concourse</text>
<text x="867" y="1247.5" textLength="31">F1-F6</text>
<text x="465" y="1286" textLength="49">Arrivals 1</text>
<text x="572" y="1286" textLength="51">Arrivals 2</text>
<text x="654" y="1286" textLength="52">Arrivals 3</text>
<text x="270" y="1303" textLength="58">国内線到着</text>
<text x="279" y="1359" font-size="11" textLength="82">Exit A（国内線）</text>
<text x="453" y="1359" font-size="11" textLength="82">Exit B（国際線）</text>
<text x="627" y="1359" font-size="11" textLength="83">Exit C（国際線）</text>
<text x="127" y="1458.5" textLength="60">Concourse</text>
<text x="140" y="1470.5" textLength="33">A1-A6</text>
<text x="802" y="1458.5" textLength="59">Concourse</text>
<text x="814" y="1470.5" textLength="35">G1-G5</text>
<text x="793" y="1352" font-size="11.5" textLength="124">2階保安検査場通過後、</text>
<text x="793" y="1366" font-size="11.5" textLength="104">3階国際線フロアへ</text>
<text x="327" y="1484" textLength="69">荷物受け取り</text>
<text x="387" y="1514" textLength="23">税関</text>
</g>
<g fill="#333" font-size="12" text-anchor="middle">
<text x="248" y="1452">1</text><text x="319" y="1452">2</text><text x="359" y="1452">3</text><text x="426" y="1452">4</text><text x="477" y="1452">5</text><text x="528" y="1452">6</text><text x="575" y="1452">7</text><text x="628" y="1452">8</text><text x="670" y="1452">9</text><text x="731" y="1452">10</text>
</g>
<rect x="52" y="1298" width="21" height="21" fill="#14307F"/>
<text x="62.5" y="1314.5" font-size="15" font-weight="bold" fill="#fff" text-anchor="middle">4</text>
<text x="83" y="1316" font-size="16" fill="#333" textLength="143">国内線乗り継ぎ専用</text>
<text x="82" y="1334" font-size="16" fill="#333" textLength="65">入国審査</text>
</svg>
</body></html>
